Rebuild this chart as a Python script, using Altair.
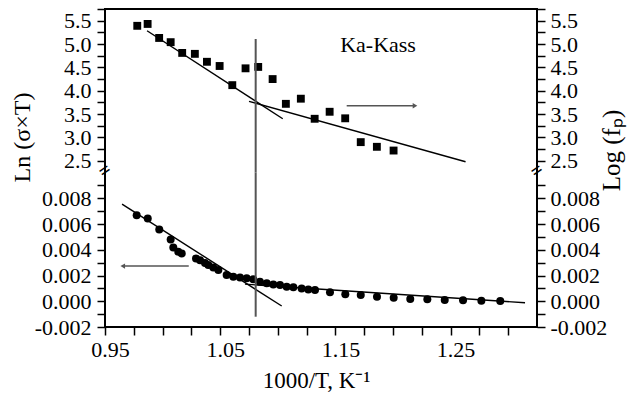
import altair as alt
import pandas as pd

FONT = "Liberation Serif"

# ---- upper part: Log(fp) squares ----
sq_x = [0.978, 0.987, 0.997, 1.007, 1.017, 1.028, 1.0385, 1.0495, 1.0605, 1.072,
        1.083, 1.0955, 1.107, 1.120, 1.132, 1.145, 1.1585, 1.172, 1.186, 1.2005]
sq_y = [5.39, 5.43, 5.13, 5.04, 4.81, 4.79, 4.62, 4.53, 4.12, 4.48,
        4.51, 4.25, 3.72, 3.83, 3.40, 3.55, 3.41, 2.90, 2.80, 2.72]

top_fit_seg = ["a", "a", "b", "b"]
top_fit_x = [0.9865, 1.1043, 1.075, 1.263]
top_fit_y = [5.285, 3.401, 3.773, 2.480]

# ---- lower part: Ln(sigma*T) circles ----
circ_x = [0.9775, 0.9871, 0.9971, 1.0070, 1.0093, 1.0136, 1.0166, 1.0290, 1.0325, 1.0368,
          1.0397, 1.0440, 1.0484, 1.0556, 1.0614, 1.0672, 1.0730, 1.0787, 1.0845, 1.0904,
          1.0961, 1.1019, 1.1077, 1.1135, 1.1207, 1.1265, 1.1323, 1.1453, 1.1586, 1.1720,
          1.1861, 1.2006, 1.2150, 1.2298, 1.2449, 1.2608, 1.2767, 1.2931]
circ_y = [0.00668, 0.00643, 0.00557, 0.00480, 0.00418, 0.00384, 0.00371, 0.00333, 0.00319, 0.00298,
          0.00281, 0.00263, 0.00242, 0.00203, 0.00190, 0.00185, 0.00178, 0.00170, 0.00151, 0.00139,
          0.00131, 0.00126, 0.00112, 0.00108, 0.00100, 0.00092, 0.00087, 0.00069, 0.00054, 0.00048,
          0.00035, 0.00027, 0.00017, 0.00015, 0.00009, 0.00007, 0.00004, 0.00002]

bot_fit_seg = ["a", "a", "b", "b"]
bot_fit_x = [0.9648, 1.1034, 1.0715, 1.3146]
bot_fit_y = [0.00754, -0.00037, 0.00133, -0.00012]

# vertical separator line
vline_x = [1.0808]
vline_top_y = [5.108]
vline_bot_y = [-0.0012]

# arrows
arrow_top_x = [1.1598]
arrow_top_x2 = [1.2191]
arrow_top_y = [3.679]
arrow_bot_x = [0.9654]
arrow_bot_x2 = [1.0227]
arrow_bot_y = [0.00273]

# annotation
label_text = ["Ka-Kass"]
label_x = [1.187]
label_y = [4.98]

# axis break markers
break_x = [0.95, 1.325]
break_y = [2.285, 2.285]

X_DOMAIN = [0.95, 1.325]
TOP_DOMAIN = [2.25, 5.75]
BOT_DOMAIN = [-0.002, 0.010]
PLOT_W = 432
PLOT_H = 318
TOP_H = 163.5

x_ticks = [round(0.95 + 0.025 * i, 3) for i in range(15)]
top_ticks = [round(2.5 + 0.25 * i, 2) for i in range(14)]
bot_ticks = [round(-0.002 + 0.001 * i, 3) for i in range(12)]

xscale = alt.Scale(domain=X_DOMAIN, nice=False, zero=False)
top_scale = alt.Scale(domain=TOP_DOMAIN, range=[TOP_H, 0], nice=False, zero=False)
bot_scale = alt.Scale(domain=BOT_DOMAIN, range=[PLOT_H, TOP_H], nice=False, zero=False)

common_axis = dict(
    domain=False, grid=False, ticks=True, tickColor="black", tickWidth=1.5, tickSize=8,
    labelFont=FONT, labelFontSize=22, labelColor="black", labelFlush=False,
    labelOverlap=False, titleFont=FONT, titleColor="black", titleFontWeight="normal",
)

x_axis = alt.Axis(
    values=x_ticks, orient="bottom",
    labelExpr="abs(datum.value*20 - round(datum.value*20)) < 0.001 && round(datum.value*20) % 2 == 1 ? format(datum.value, '.2f') : ''",
    labelOffset=5, labelPadding=4,
    title="1000/T, K⁻¹", titleFontSize=23, titleX=211, titleY=53,
    titleAlign="center", titleBaseline="middle",
    **common_axis,
)

top_lbl = "round(datum.value*4) % 2 == 0 ? format(datum.value, '.1f') : ''"
bot_lbl = "round(datum.value*1000) % 2 == 0 ? replace(format(datum.value, '.3f'), '\u2212', '-') : ''"

top_left_axis = alt.Axis(values=top_ticks, orient="left", labelExpr=top_lbl, labelPadding=6,
                         title="Ln (σ×T)", titleFontSize=24, titleAngle=270, titleX=-83, titleY=128,
                         titleAlign="center", titleBaseline="middle", **common_axis)
top_right_axis = alt.Axis(values=top_ticks, orient="right", labelExpr=top_lbl, labelPadding=5,
                          title="Log (fₚ)", titleFontSize=25, titleAngle=270, titleX=74, titleY=141,
                          titleAlign="center", titleBaseline="middle", **common_axis)
bot_left_axis = alt.Axis(values=bot_ticks, orient="left", labelExpr=bot_lbl, labelPadding=6,
                         title=None, **common_axis)
bot_right_axis = alt.Axis(values=bot_ticks, orient="right", labelExpr=bot_lbl, labelPadding=5,
                          title=None, **common_axis)


def X(field="x"):
    # every layer carries the same x axis spec so that they merge into one axis
    return alt.X(f"{field}:Q", scale=xscale, axis=x_axis)


def YT(axis=None, field="y"):
    return alt.Y(f"{field}:Q", scale=top_scale, axis=axis)


def YB(axis=None, field="y"):
    return alt.Y(f"{field}:Q", scale=bot_scale, axis=axis)


GRAY = "#555555"

# ----- top group -----
df_sq = pd.DataFrame({"x": sq_x, "y": sq_y})
df_tfit = pd.DataFrame({"seg": top_fit_seg, "x": top_fit_x, "y": top_fit_y})
df_tv = pd.DataFrame({"x": vline_x, "y": vline_top_y, "y2": [TOP_DOMAIN[0]]})
df_tarr = pd.DataFrame({"x": arrow_top_x, "x2": arrow_top_x2, "y": arrow_top_y})
df_lab = pd.DataFrame({"t": label_text, "x": label_x, "y": label_y})
df_brk = pd.DataFrame({"x": break_x, "y": break_y})

sq = alt.Chart(df_sq).mark_square(size=62, color="black", opacity=1).encode(
    x=X(), y=YT(top_left_axis))
tfit = alt.Chart(df_tfit).mark_line(color="black", strokeWidth=1.4).encode(
    x=X(), y=YT(top_right_axis), detail="seg:N")
tv = alt.Chart(df_tv).mark_rule(color=GRAY, strokeWidth=2).encode(
    x=X(), y=YT(), y2="y2:Q")
tarr = alt.Chart(df_tarr).mark_rule(color=GRAY, strokeWidth=1.5).encode(
    x=X(), x2="x2:Q", y=YT())
thead = alt.Chart(df_tarr).mark_point(shape="triangle-right", filled=True, size=28,
                                      color=GRAY, opacity=1).encode(
    x=X("x2"), y=YT())
lab = alt.Chart(df_lab).mark_text(font=FONT, fontSize=22, color="black").encode(
    x=X(), y=YT(), text="t:N")
brk = alt.Chart(df_brk).mark_text(text="=", font=FONT, fontSize=20, angle=325,
                                  color="black", fontWeight="bold").encode(
    x=X(), y=YT())

top = alt.layer(sq, tfit, tv, tarr, thead, lab, brk).resolve_axis(y="independent")

# ----- bottom group -----
df_c = pd.DataFrame({"x": circ_x, "y": circ_y})
df_bfit = pd.DataFrame({"seg": bot_fit_seg, "x": bot_fit_x, "y": bot_fit_y})
df_bv = pd.DataFrame({"x": vline_x, "y": [BOT_DOMAIN[1]], "y2": vline_bot_y})
df_barr = pd.DataFrame({"x": arrow_bot_x, "x2": arrow_bot_x2, "y": arrow_bot_y})

circ = alt.Chart(df_c).mark_circle(size=64, color="black", opacity=1).encode(
    x=X(), y=YB(bot_left_axis))
bfit = alt.Chart(df_bfit).mark_line(color="black", strokeWidth=1.4).encode(
    x=X(), y=YB(bot_right_axis), detail="seg:N")
bv = alt.Chart(df_bv).mark_rule(color=GRAY, strokeWidth=2).encode(
    x=X(), y=YB(), y2="y2:Q")
barr = alt.Chart(df_barr).mark_rule(color=GRAY, strokeWidth=1.5).encode(
    x=X(), x2="x2:Q", y=YB())
bhead = alt.Chart(df_barr).mark_point(shape="triangle-left", filled=True, size=28,
                                      color=GRAY, opacity=1).encode(
    x=X(), y=YB())

bottom = alt.layer(bfit, circ, bv, barr, bhead).resolve_axis(y="independent")

chart = alt.layer(top, bottom).resolve_scale(y="independent").properties(
    width=PLOT_W, height=PLOT_H,
    autosize=alt.AutoSizeParams(type="none"),
    padding={"left": 105, "top": 9, "right": 630 - 105 - PLOT_W, "bottom": 398 - 9 - PLOT_H},
    background="white",
).configure_view(stroke="black", strokeWidth=2)

chart.save("out.html", embed_options={"renderer": "svg", "actions": False})
